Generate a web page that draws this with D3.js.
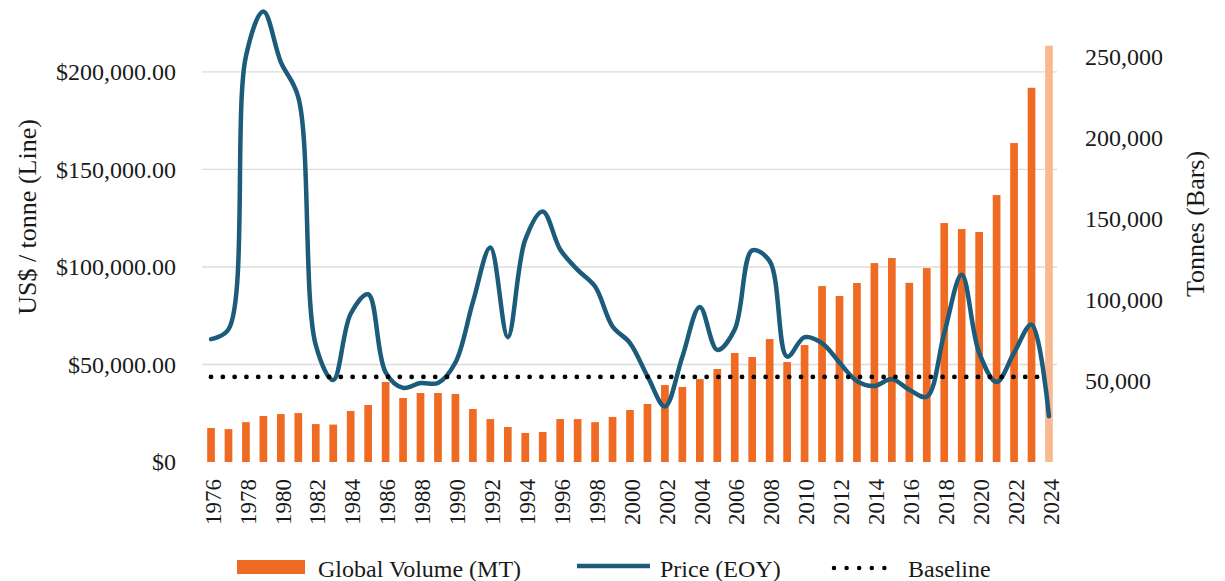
<!DOCTYPE html>
<html>
<head>
<meta charset="utf-8">
<script src="https://cdn.jsdelivr.net/npm/d3@7"></script>
<style>
  html, body { margin: 0; padding: 0; background: #ffffff; }
  svg { display: block; }
  text { font-family: "Liberation Serif", "DejaVu Serif", serif; fill: #1a1a1a; }
</style>
</head>
<body>
<svg id="chart" width="1225" height="581"></svg>
<script>
// ---- Data ----
const years = d3.range(1976, 2025);
const volume = [
  21000, 20300, 24600, 28400, 29600, 30200, 23400, 23100, 31500, 35200,
  49400, 39500, 42600, 42600, 42000, 32700, 26500, 21600, 17900, 18500,
  26500, 26500, 24600, 27800, 32100, 35800, 47500, 46300, 51200, 57400,
  67300, 64800, 75900, 61700, 72200, 108600, 102500, 110500, 122800, 125900,
  110600, 119700, 147500, 143800, 142000, 164800, 196900, 231000, 257000
];
const price = [
  63000, 68000, 208000, 231000, 205000, 187000, 60000, 42000, 76000, 86000,
  46000, 38000, 40500, 40500, 51000, 82000, 110000, 64000, 114000, 128500,
  109000, 98500, 90000, 69500, 61000, 44000, 28500, 54000, 79500, 57500,
  68000, 108500, 103000, 54000, 64000, 61000, 51000, 41500, 39000, 42500,
  37000, 33500, 66000, 96000, 56000, 41000, 56000, 70500, 23500
];
const baselineValue = 43600;
const leftTicks = [0, 50000, 100000, 150000, 200000];
const rightTicks = [50000, 100000, 150000, 200000, 250000];
const xTickYears = years.filter(y => (y - 1976) % 2 === 0);
const legendItems = ["Global Volume (MT)", "Price (EOY)", "Baseline"];

// ---- Style ----
const barColor = "#ef6a22";
const barLastColor = "#f8b890";
const lineColor = "#1c5b7a";
const gridColor = "#dcdcdc";

const svg = d3.select("#chart");

const x = d3.scaleBand().domain(years).range([202.3, 1057.7]).paddingInner(0.56).paddingOuter(0.28);
const yL = d3.scaleLinear().domain([0, 236900]).range([462, 0]);
const yR = d3.scaleLinear().domain([0, 285200]).range([462, 0]);
const cx = d => x(d) + x.bandwidth() / 2;

// gridlines
svg.append("g").selectAll("line").data(leftTicks.filter(t => t > 0)).join("line")
  .attr("x1", 202).attr("x2", 1057)
  .attr("y1", d => yL(d)).attr("y2", d => yL(d))
  .attr("stroke", gridColor).attr("stroke-width", 1.3);

// left axis
const leftAxis = d3.axisLeft(yL).tickValues(leftTicks).tickSize(0).tickPadding(0)
  .tickFormat(d => d === 0 ? "$0" : "$" + d3.format(",.2f")(d));
const gL = svg.append("g").attr("transform", "translate(176,0)").call(leftAxis);
gL.select(".domain").remove();
gL.selectAll("text").style("font-size", "24px").style("font-family", "Liberation Serif").attr("fill", "#1a1a1a");

// right axis
const rightAxis = d3.axisRight(yR).tickValues(rightTicks).tickSize(0).tickPadding(0)
  .tickFormat(d3.format(","));
const gR = svg.append("g").attr("transform", "translate(1085,0)").call(rightAxis);
gR.select(".domain").remove();
gR.selectAll("text").style("font-size", "24px").style("font-family", "Liberation Serif").attr("fill", "#1a1a1a");

// x axis labels
const xAxis = d3.axisBottom(x).tickValues(xTickYears).tickSize(0).tickPadding(0);
const gX = svg.append("g").attr("transform", "translate(0,479)").call(xAxis);
gX.select(".domain").remove();
gX.selectAll("text")
  .style("font-size", "23px").style("font-family", "Liberation Serif").attr("fill", "#1a1a1a")
  .attr("text-anchor", "end").attr("transform", "rotate(-90)")
  .attr("x", 0).attr("y", 0).attr("dy", "0.42em");

// bars
svg.append("g").selectAll("rect").data(years).join("rect")
  .attr("x", d => x(d)).attr("width", x.bandwidth())
  .attr("y", (d, i) => yR(volume[i])).attr("height", (d, i) => yR(0) - yR(volume[i]))
  .attr("fill", (d, i) => i === years.length - 1 ? barLastColor : barColor);

// price line
const line = d3.line().x((d, i) => cx(years[i])).y(d => yL(d)).curve(d3.curveCatmullRom.alpha(0.5));
svg.append("path").datum(price).attr("d", line)
  .attr("fill", "none").attr("stroke", lineColor).attr("stroke-width", 4.5)
  .attr("stroke-linejoin", "round").attr("stroke-linecap", "round");

// baseline
svg.append("line")
  .attr("x1", cx(years[0])).attr("x2", 1042)
  .attr("y1", yL(baselineValue)).attr("y2", yL(baselineValue))
  .attr("stroke", "#000").attr("stroke-width", 4.8)
  .attr("stroke-linecap", "round").attr("stroke-dasharray", "0 11.8");

// axis titles
svg.append("text").attr("transform", "translate(27,217) rotate(-90)")
  .attr("text-anchor", "middle").attr("dy", "0.35em")
  .style("font-size", "26px").text("US$ / tonne (Line)");
svg.append("text").attr("transform", "translate(1195,224) rotate(-90)")
  .attr("text-anchor", "middle").attr("dy", "0.35em")
  .style("font-size", "26px").text("Tonnes (Bars)");

// legend
const lg = svg.append("g");
lg.append("rect").attr("x", 237).attr("y", 560).attr("width", 68).attr("height", 14).attr("fill", barColor);
lg.append("text").attr("x", 318).attr("y", 577).style("font-size", "24px").text(legendItems[0]);
lg.append("line").attr("x1", 577).attr("x2", 650).attr("y1", 566).attr("y2", 566)
  .attr("stroke", lineColor).attr("stroke-width", 4.5);
lg.append("text").attr("x", 660).attr("y", 577).style("font-size", "24px").text(legendItems[1]);
lg.append("line").attr("x1", 834).attr("x2", 897).attr("y1", 568).attr("y2", 568)
  .attr("stroke", "#000").attr("stroke-width", 4.5).attr("stroke-linecap", "round")
  .attr("stroke-dasharray", "0 12.6");
lg.append("text").attr("x", 908).attr("y", 577).style("font-size", "24px").text(legendItems[2]);
</script>
</body>
</html>
